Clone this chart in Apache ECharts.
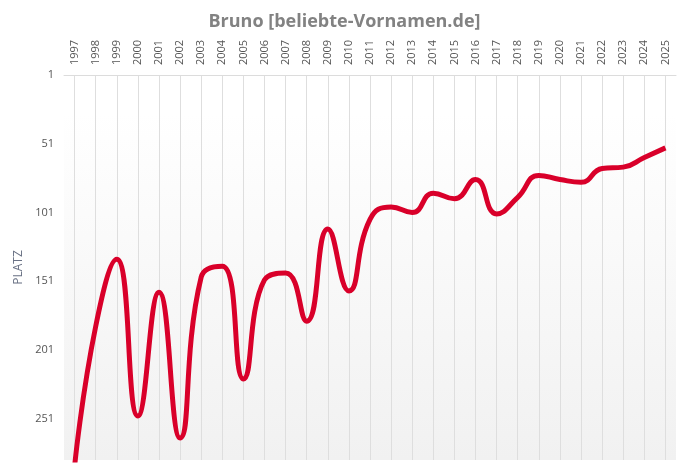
<!DOCTYPE html>
<html>
<head>
<meta charset="utf-8">
<script src="https://cdn.jsdelivr.net/npm/echarts@6/dist/echarts.min.js"></script>
<style>
  html, body { margin: 0; padding: 0; background: #fff; }
  #chart { width: 689px; height: 474px; }
</style>
</head>
<body>
<div id="chart"></div>
<script>
const years = ['1997', '1998', '1999', '2000', '2001', '2002', '2003', '2004', '2005', '2006',
  '2007', '2008', '2009', '2010', '2011', '2012', '2013', '2014', '2015', '2016',
  '2017', '2018', '2019', '2020', '2021', '2022', '2023', '2024', '2025']
const platz = [286, 184, 135, 249, 159, 265, 148, 140, 222, 150,
  145, 180, 113, 158, 106, 97, 101, 87, 91, 77,
  102, 90, 74, 77, 79, 69, 68, 61, 54]
const yMin = 1
const yMax = 281
const yStep = 50

const chart = echarts.init(document.getElementById('chart'))

chart.setOption({
  animation: false,
  title: {
    text: 'Bruno [beliebte-Vornamen.de]',
    left: 'center',
    top: 8,
    textStyle: { color: '#828282', fontSize: 18, fontWeight: 'bold', fontFamily: 'Open Sans' }
  },
  grid: {
    left: 64,
    right: 13,
    top: 75,
    bottom: 14,
    show: true,
    borderWidth: 0,
    backgroundColor: new echarts.graphic.LinearGradient(0, 0, 0, 1, [
      { offset: 0, color: '#ffffff' },
      { offset: 0.1, color: '#ffffff' },
      { offset: 1, color: '#f1f1f1' }
    ])
  },
  xAxis: {
    type: 'category',
    data: years,
    position: 'top',
    boundaryGap: true,
    axisLine: { lineStyle: { color: '#dcdcdc', width: 1 } },
    axisTick: { show: false },
    axisLabel: {
      rotate: -90,
      interval: 0,
      margin: 10,
      color: '#555',
      fontSize: 11,
      fontFamily: 'Open Sans'
    },
    splitLine: {
      show: true,
      alignWithLabel: true,
      interval: 0,
      lineStyle: { color: '#dedede', width: 1 }
    }
  },
  yAxis: {
    type: 'value',
    inverse: true,
    min: yMin,
    max: yMax,
    interval: yStep,
    name: 'PLATZ',
    nameLocation: 'middle',
    nameGap: 30,
    nameTextStyle: { color: '#6a7285', fontSize: 12, fontFamily: 'Open Sans' },
    axisLine: { show: false },
    axisTick: { show: false },
    splitLine: { show: false },
    axisLabel: {
      showMaxLabel: false,
      color: '#555',
      fontSize: 11,
      margin: 10,
      fontFamily: 'Open Sans'
    }
  },
  series: [{
    type: 'line',
    data: platz,
    smooth: 0.5,
    symbol: 'none',
    clip: true,
    lineStyle: { color: '#d9002a', width: 5 }
  }]
})
</script>
</body>
</html>
